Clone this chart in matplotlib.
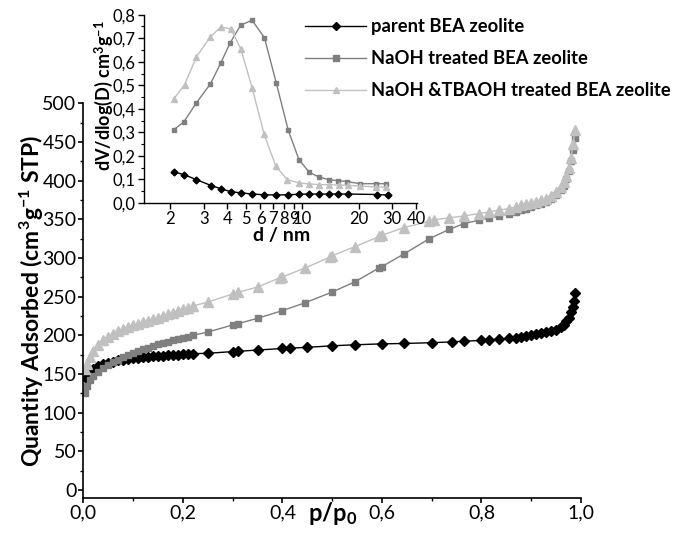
import matplotlib
matplotlib.use("Agg")
import matplotlib.pyplot as plt
from matplotlib.lines import Line2D
from matplotlib.ticker import FuncFormatter, MultipleLocator, FixedLocator, NullLocator

plt.rcParams['font.family'] = ['Lato', 'DejaVu Sans']
plt.rcParams['mathtext.fontset'] = 'custom'
plt.rcParams['mathtext.rm'] = 'Lato'
plt.rcParams['mathtext.bf'] = 'Lato:bold'
plt.rcParams['mathtext.it'] = 'Lato:italic'

# --- izoterma (p/p0, cm3/g) ---
p_parent = [0.005, 0.012, 0.02, 0.03, 0.04, 0.05, 0.06, 0.07, 0.08, 0.09, 0.10, 0.11, 0.12,
            0.13, 0.14, 0.15, 0.16, 0.17, 0.18, 0.19, 0.20, 0.21, 0.22, 0.25, 0.30, 0.31, 0.35,
            0.40, 0.415, 0.45, 0.50, 0.545, 0.60, 0.645, 0.70, 0.74, 0.765, 0.80, 0.815, 0.835,
            0.855, 0.87, 0.88, 0.89, 0.90, 0.91, 0.92, 0.93, 0.94, 0.95, 0.96, 0.965, 0.97,
            0.975, 0.98, 0.983, 0.986, 0.988]
q_parent = [145, 152, 157, 160, 162.5, 164.5, 166, 167.5, 168.5, 169.5, 170.3, 171, 171.7,
            172.3, 172.9, 173.4, 173.9, 174.4, 174.8, 175.2, 175.6, 176, 176.3, 176.8, 179, 179.3,
            181, 183, 183.4, 184.5, 186.5, 187.8, 189, 189.5, 190.5, 191.5, 192.5, 193.4, 194.2,
            195, 196, 197, 198, 199.5, 201, 202, 203, 204, 205.5, 207.5, 211, 214, 218, 222, 230,
            237, 245, 255]

p_naoh = [0.003, 0.008, 0.014, 0.02, 0.03, 0.04, 0.05, 0.06, 0.07, 0.08, 0.09, 0.10, 0.11,
          0.12, 0.13, 0.14, 0.15, 0.16, 0.17, 0.18, 0.19, 0.20, 0.21, 0.22, 0.25, 0.30, 0.31,
          0.35, 0.40, 0.445, 0.50, 0.545, 0.595, 0.60, 0.645, 0.695, 0.735, 0.765, 0.795, 0.815,
          0.835, 0.855, 0.87, 0.88, 0.89, 0.90, 0.91, 0.92, 0.93, 0.94, 0.95, 0.96, 0.965, 0.97,
          0.975, 0.98, 0.984, 0.988]
q_naoh = [126, 135, 142, 147, 153, 158, 162, 165, 168.5, 171.5, 174.5, 177, 179.5, 182, 184.2,
          186.3, 188.3, 190.2, 192, 193.7, 195.3, 197, 198.5, 200, 204.2, 213.5, 215, 222, 232,
          242, 256, 269, 287.5, 289, 305.5, 325, 337, 344.5, 349, 351.5, 354, 357, 360, 362, 364,
          366, 368, 370, 372.5, 376, 381, 388, 393, 402, 412, 425, 440, 455]

p_tbaoh = [0.003, 0.008, 0.014, 0.02, 0.03, 0.04, 0.05, 0.06, 0.07, 0.08, 0.09, 0.10, 0.11,
           0.12, 0.13, 0.14, 0.15, 0.16, 0.17, 0.18, 0.19, 0.20, 0.21, 0.22, 0.25, 0.30, 0.31,
           0.35, 0.395, 0.40, 0.445, 0.495, 0.50, 0.545, 0.595, 0.60, 0.645, 0.695, 0.705, 0.735,
           0.765, 0.795, 0.815, 0.835, 0.855, 0.87, 0.88, 0.89, 0.90, 0.91, 0.92, 0.93, 0.94,
           0.95, 0.96, 0.965, 0.97, 0.975, 0.98, 0.984, 0.988]
q_tbaoh = [156, 163, 172, 180, 188, 193.5, 198, 202, 205, 208.5, 211, 213, 215, 217, 219, 221,
           223, 225, 227, 229.5, 232, 234, 236, 238, 243, 253.5, 255.5, 262.5, 274.5, 275.5, 287,
           301, 303, 314.5, 328, 329.5, 339.5, 347.5, 349.5, 352, 354.5, 357.5, 359.5, 362, 364,
           366, 368, 369.5, 371, 372.5, 374.5, 377, 380.5, 385, 392, 398, 406, 416, 430, 448, 466]

# --- rozklad porow (d / nm, dV/dlog(D)) ---
d_parent = [2.09, 2.37, 2.75, 3.29, 3.72, 4.17, 4.74, 5.42, 6.3, 7.27, 8.4, 9.6, 10.9, 12.3,
            13.8, 15.5, 17.4, 25.0, 28.3]
v_parent = [0.132, 0.120, 0.099, 0.074, 0.060, 0.048, 0.043, 0.038, 0.035, 0.034, 0.035,
            0.037, 0.038, 0.038, 0.038, 0.038, 0.038, 0.036, 0.034]

d_naoh = [2.09, 2.36, 2.75, 3.26, 3.69, 4.15, 4.72, 5.42, 6.3, 7.27, 8.42, 9.6, 10.9, 12.2,
          13.8, 15.5, 17.2, 20.2, 24.6, 27.9]
v_naoh = [0.312, 0.345, 0.426, 0.506, 0.593, 0.681, 0.756, 0.776, 0.702, 0.511, 0.309, 0.184,
          0.130, 0.111, 0.099, 0.095, 0.091, 0.082, 0.082, 0.082]

d_tbaoh = [2.09, 2.38, 2.75, 3.26, 3.69, 4.18, 4.72, 5.42, 6.28, 7.24, 8.32, 9.6, 10.8, 12.3,
           13.8, 15.6, 17.4, 20.2, 24.6, 27.9]
v_tbaoh = [0.443, 0.503, 0.621, 0.706, 0.747, 0.740, 0.655, 0.489, 0.291, 0.156, 0.099,
           0.085, 0.081, 0.078, 0.078, 0.076, 0.075, 0.072, 0.068, 0.067]

etykiety = ['parent BEA zeolite', 'NaOH treated BEA zeolite',
            'NaOH &TBAOH treated BEA zeolite']
kolory = ['#000000', '#7f7f7f', '#c0c0c0']
markery = ['D', 's', '^']

przecinek1 = FuncFormatter(lambda v, _: f'{v:.1f}'.replace('.', ','))

fig = plt.figure(figsize=(6.73, 5.35), dpi=100)
ax = fig.add_axes([0.1238, 0.0697, 0.7395, 0.737])

serie = [(p_parent, q_parent), (p_naoh, q_naoh), (p_tbaoh, q_tbaoh)]
rozmiary = [5.5, 5, 6.5]
for (x, y), c, m, ms in zip(serie, kolory, markery, rozmiary):
    ax.plot(x, y, color=c, marker=m, markersize=ms, lw=1.0, mec=c, mfc=c)

ax.set_xlim(0, 1.0)
ax.set_ylim(-10, 500)
ax.xaxis.set_major_locator(MultipleLocator(0.2))
ax.xaxis.set_minor_locator(MultipleLocator(0.1))
ax.yaxis.set_major_locator(MultipleLocator(50))
ax.yaxis.set_minor_locator(MultipleLocator(25))
ax.xaxis.set_major_formatter(przecinek1)
ax.spines['top'].set_visible(False)
ax.spines['right'].set_visible(False)
for s in ('left', 'bottom'):
    ax.spines[s].set_linewidth(1.2)
ax.tick_params(which='major', direction='out', length=3.5, width=1.2, labelsize=14, pad=1.5)
ax.tick_params(which='minor', direction='out', length=2.5, width=1.0)
ax.set_xlabel(r'p/p$_{\mathbf{0}}$', fontsize=17, fontweight='bold', va='top')
ax.xaxis.set_label_coords(0.5, -0.005)
ax.set_ylabel(r'Quantity Adsorbed (cm$^{\mathbf{3}}$g$^{\mathbf{-1}}$ STP)',
              fontsize=16.5, fontweight='bold')
ax.yaxis.set_label_coords(-0.075, 0.5)

# --- wstawka ---
axi = fig.add_axes([0.214, 0.6206, 0.4056, 0.352])
serie_i = [(d_parent, v_parent), (d_naoh, v_naoh), (d_tbaoh, v_tbaoh)]
rozmiary_i = [3.5, 3.2, 4.2]
for (x, y), c, m, ms in zip(serie_i, kolory, markery, rozmiary_i):
    axi.plot(x, y, color=c, marker=m, markersize=ms, lw=1.0, mec=c, mfc=c)
axi.set_xscale('log')
axi.set_xlim(1.45, 40.5)
axi.set_ylim(0, 0.8)
axi.xaxis.set_major_locator(FixedLocator([2, 3, 4, 5, 6, 7, 8, 9, 10, 20, 30, 40]))
axi.xaxis.set_minor_locator(NullLocator())
axi.xaxis.set_major_formatter(FuncFormatter(lambda v, _: f'{v:g}'))
axi.yaxis.set_major_locator(MultipleLocator(0.1))
axi.yaxis.set_minor_locator(MultipleLocator(0.05))
axi.yaxis.set_major_formatter(przecinek1)
axi.spines['top'].set_visible(False)
axi.spines['right'].set_visible(False)
for s in ('left', 'bottom'):
    axi.spines[s].set_linewidth(1.0)
axi.tick_params(which='major', direction='out', length=4, width=1.0, labelsize=12, pad=2)
axi.tick_params(which='minor', direction='out', length=2.5, width=0.8)
axi.set_xlabel('d / nm', fontsize=14, fontweight='bold', va='top')
axi.xaxis.set_label_coords(0.505, -0.13)
axi.set_ylabel(r'dV/dlog(D) cm$^{\mathbf{3}}$g$^{\mathbf{-1}}$', fontsize=13, fontweight='bold')
axi.yaxis.set_label_coords(-0.105, 0.57)

# --- legenda ---
uchwyty = [Line2D([], [], color=c, marker=m, markersize=ms, lw=1.0, mec=c, mfc=c)
           for c, m, ms in zip(kolory, markery, [4.5, 4, 5])]
fig.legend(uchwyty, etykiety, loc='upper left', bbox_to_anchor=(0.443, 0.98),
           frameon=False, prop={'weight': 'bold', 'size': 13.2}, numpoints=1,
           handlelength=3.3, handletextpad=0.27, labelspacing=0.82, borderaxespad=0)

fig.savefig('out.png', dpi=100)
